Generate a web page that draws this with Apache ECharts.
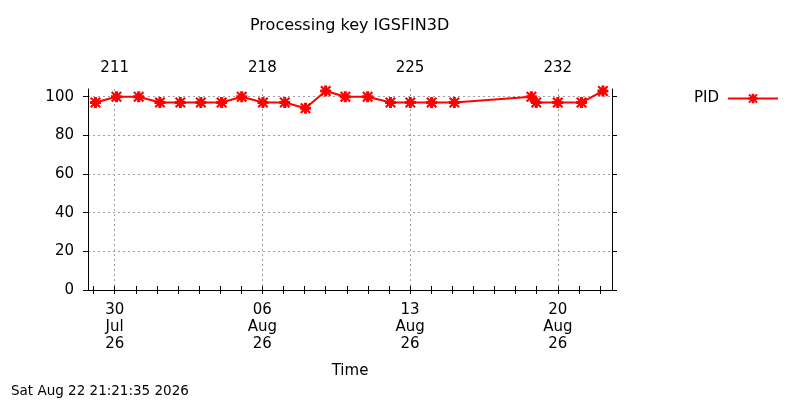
<!DOCTYPE html>
<html>
<head>
<meta charset="utf-8">
<title>Processing key IGSFIN3D</title>
<script src="https://cdn.jsdelivr.net/npm/echarts@6/dist/echarts.min.js"></script>
<style>
  html, body { margin: 0; padding: 0; background: #fff; }
  #main { width: 800px; height: 400px; }
</style>
</head>
<body>
<div id="main"></div>
<script>
// sample times (local)
const times = [
  '2026-07-29 02:10', '2026-07-30 02:00', '2026-07-31 03:20', '2026-08-01 03:30',
  '2026-08-02 02:40', '2026-08-03 02:00', '2026-08-04 01:40', '2026-08-05 00:30',
  '2026-08-06 00:40', '2026-08-07 01:30', '2026-08-08 01:00', '2026-08-09 00:00',
  '2026-08-09 22:20', '2026-08-10 23:45', '2026-08-12 01:40', '2026-08-13 00:15',
  '2026-08-14 00:30', '2026-08-15 02:20', '2026-08-18 18:00', '2026-08-18 23:30',
  '2026-08-20 00:00', '2026-08-21 03:00', '2026-08-22 03:20'
];
// PID values
const pid = [
  97, 100, 100, 97,
  97, 97, 97, 100,
  97, 97, 94, 103,
  100, 100, 97, 97,
  97, 97, 100, 97,
  97, 97, 103
];
// labelled weeks on the time axis
const majorDays = ['2026-07-30 00:00', '2026-08-06 00:00', '2026-08-13 00:00', '2026-08-20 00:00'];
const yTicks = [0, 20, 40, 60, 80, 100];

const xMin = '2026-07-28 17:40';
const xMax = '2026-08-22 13:40';
const stamp = 'Sat Aug 22 21:21:35 2026';

const DAY = 86400000;
const months = ['Jan','Feb','Mar','Apr','May','Jun','Jul','Aug','Sep','Oct','Nov','Dec'];
const pad = n => (n < 10 ? '0' : '') + n;

// 'YYYY-MM-DD HH:mm' -> local ms
const toMs = s => {
  const [d, t] = s.split(' ');
  const [y, m, dd] = d.split('-').map(Number);
  const [h, mi] = t.split(':').map(Number);
  return new Date(y, m - 1, dd, h, mi).getTime();
};

const minMs = toMs(xMin), maxMs = toMs(xMax);
const majorMs = majorDays.map(toMs);

// daily minor ticks between the range ends
const dailyTicks = [];
{
  const d = new Date(minMs); d.setHours(0, 0, 0, 0);
  while (d.getTime() <= maxMs) {
    if (d.getTime() >= minMs) dailyTicks.push(d.getTime());
    d.setDate(d.getDate() + 1);
  }
}

const dayOfYear = v => {
  const d = new Date(v);
  return Math.round((d - new Date(d.getFullYear(), 0, 0)) / DAY);
};

const font = 'DejaVu Sans';
const black = '#000';
const gridLine = { color: '#a0a0a0', type: [2, 3], width: 1 };
// gnuplot-like bold asterisk
const star = 'path://M0,3.6H10V6.4H0Z M3.6,0H6.4V10H3.6Z M1.4,0L10,8.6L8.6,10L0,1.4Z M8.6,0L10,1.4L1.4,10L0,8.6Z';

const chart = echarts.init(document.getElementById('main'));
chart.setOption({
  animation: false,
  textStyle: { fontFamily: font },
  graphic: [
    { type: 'text', left: 250, top: 18,
      style: { text: 'Processing key IGSFIN3D', font: '16px "DejaVu Sans"', fill: black } },
    { type: 'text', left: 11, top: 384,
      style: { text: stamp, font: '13.5px "DejaVu Sans"', fill: black } }
  ],
  legend: {
    left: 689, top: 86, align: 'right',
    itemWidth: 50, itemHeight: 12, itemGap: 6,
    textStyle: { fontFamily: font, fontSize: 15, color: black, padding: [0, 4, 0, 0] },
    data: ['PID']
  },
  grid: { left: 88, right: 188, top: 89, bottom: 110 },
  xAxis: [
    {
      type: 'value', position: 'bottom', min: minMs, max: maxMs,
      name: 'Time', nameLocation: 'middle', nameGap: 74,
      nameTextStyle: { fontFamily: font, fontSize: 15, color: black },
      axisLine: { lineStyle: { color: black, width: 1 } },
      axisTick: { customValues: dailyTicks, length: 4, lineStyle: { color: black } },
      axisLabel: {
        customValues: majorMs, color: black, fontSize: 15, lineHeight: 17, margin: 12,
        formatter: v => {
          const d = new Date(v);
          return pad(d.getDate()) + '\n' + months[d.getMonth()] + '\n' + pad(d.getFullYear() % 100);
        }
      },
      splitLine: { show: false }
    },
    {
      type: 'value', position: 'top', min: minMs, max: maxMs,
      axisLine: { lineStyle: { color: black, width: 1 } },
      axisTick: { customValues: dailyTicks, length: 4, lineStyle: { color: black } },
      axisLabel: {
        customValues: majorMs, color: black, fontSize: 15, margin: 13,
        formatter: v => String(dayOfYear(v))
      },
      splitLine: { show: false }
    },
    {
      // weekly grid lines only
      type: 'value', position: 'bottom', min: minMs, max: maxMs,
      axisLine: { show: false },
      axisTick: { show: false, customValues: majorMs },
      axisLabel: { show: false, customValues: majorMs },
      splitLine: { show: true, lineStyle: gridLine }
    }
  ],
  yAxis: [
    {
      type: 'value', min: 0, max: 104, position: 'left',
      axisLine: { show: true, lineStyle: { color: black, width: 1 } },
      axisTick: { show: true, customValues: yTicks, length: 5, lineStyle: { color: black } },
      axisLabel: { customValues: yTicks, color: black, fontSize: 15, margin: 14 },
      splitLine: { show: true, lineStyle: gridLine }
    },
    {
      type: 'value', min: 0, max: 104, position: 'right',
      axisLine: { show: true, lineStyle: { color: black, width: 1 } },
      axisTick: { show: true, customValues: yTicks, length: 5, lineStyle: { color: black } },
      axisLabel: { show: false },
      splitLine: { show: false }
    }
  ],
  series: [
    {
      name: 'PID', type: 'line', xAxisIndex: 0, yAxisIndex: 0,
      data: times.map((t, i) => [toMs(t), pid[i]]),
      symbol: star,
      symbolSize: 11,
      showSymbol: true,
      lineStyle: { color: '#ff0000', width: 2 },
      itemStyle: { color: '#ff0000' }
    }
  ]
});
</script>
</body>
</html>
